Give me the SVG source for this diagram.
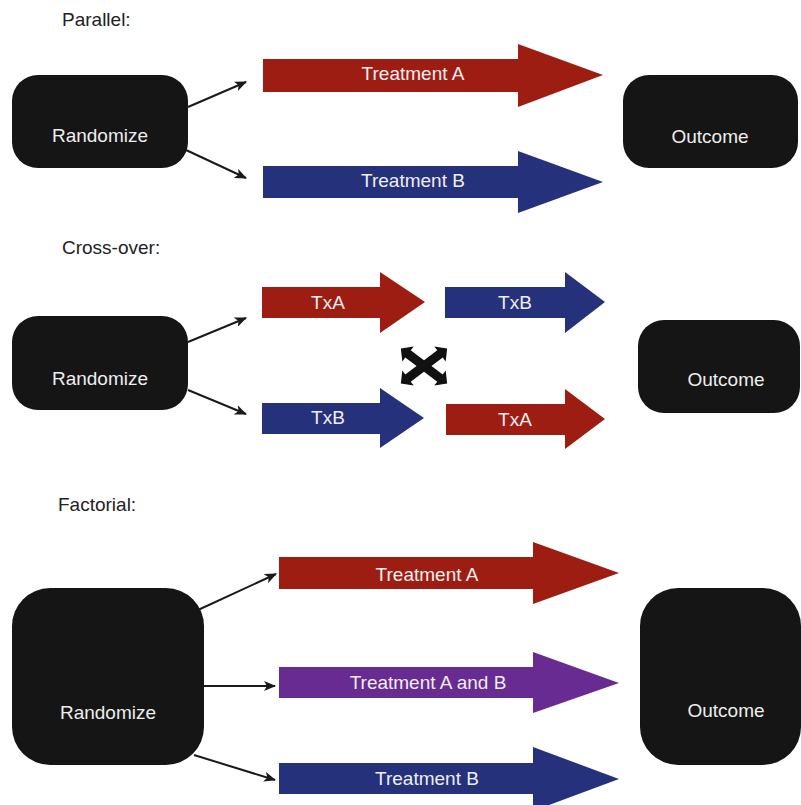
<svg xmlns="http://www.w3.org/2000/svg" width="801" height="805" viewBox="0 0 801 805">
  <defs>
    <style>
      .title { font-family: "Liberation Sans", Arial, sans-serif; font-size: 19px; fill: #222; }
      .box { fill: #151515; }
      .lbl { font-family: "Liberation Sans", Arial, sans-serif; font-size: 19px; fill: #eeeeee; text-anchor: middle; }
      .red { fill: #9d1d13; }
      .blue { fill: #26317c; }
      .purple { fill: #682b91; }
      .conn { stroke: #1a1a1a; stroke-width: 2; fill: none; marker-end: url(#head); }
    </style>
    <marker id="head" viewBox="0 0 12 10" refX="11" refY="5" markerWidth="12" markerHeight="10" markerUnits="userSpaceOnUse" orient="auto">
      <path d="M0,0 L12,5 L0,10 L3,5 Z" fill="#1a1a1a"/>
    </marker>
  </defs>

  <rect width="801" height="805" fill="#ffffff"/>

  <!-- section titles -->
  <text class="title" x="62" y="26">Parallel:</text>
  <text class="title" x="62" y="254">Cross-over:</text>
  <text class="title" x="58" y="511">Factorial:</text>

  <!-- Parallel design -->
  <g id="par-randomize">
    <rect class="box" x="12" y="75" width="176" height="93" rx="26"/>
    <text class="lbl" x="100" y="142">Randomize</text>
  </g>
  <g id="par-outcome">
    <rect class="box" x="623" y="75" width="175" height="93" rx="26"/>
    <text class="lbl" x="710" y="143">Outcome</text>
  </g>
  <g id="par-treatment-a">
    <polygon class="red" points="263,59 518,59 518,44 603,75 518,107 518,92 263,92"/>
    <text class="lbl" x="413" y="80">Treatment A</text>
  </g>
  <g id="par-treatment-b">
    <polygon class="blue" points="263,166 518,166 518,151 603,182 518,213 518,198 263,198"/>
    <text class="lbl" x="413" y="187">Treatment B</text>
  </g>

  <!-- Cross-over design -->
  <g id="co-randomize">
    <rect class="box" x="12" y="316" width="176" height="94" rx="26"/>
    <text class="lbl" x="100" y="385">Randomize</text>
  </g>
  <g id="co-outcome">
    <rect class="box" x="638" y="320" width="162" height="93" rx="26"/>
    <text class="lbl" x="726" y="386">Outcome</text>
  </g>
  <g id="co-txa-1">
    <polygon class="red" points="262,287 380,287 380,272 425,302 380,333 380,318 262,318"/>
    <text class="lbl" x="328" y="309">TxA</text>
  </g>
  <g id="co-txb-2">
    <polygon class="blue" points="445,287 565,287 565,272 605,302 565,333 565,318 445,318"/>
    <text class="lbl" x="515" y="309">TxB</text>
  </g>
  <g id="co-txb-1">
    <polygon class="blue" points="262,403 380,403 380,388 424,418 380,448 380,434 262,434"/>
    <text class="lbl" x="328" y="424">TxB</text>
  </g>
  <g id="co-txa-2">
    <polygon class="red" points="446,404 565,404 565,389 605,419 565,449 565,435 446,435"/>
    <text class="lbl" x="515" y="426">TxA</text>
  </g>
  <!-- swap symbol between periods -->
  <g id="co-swap" transform="translate(424,366)" fill="#111">
    <polygon transform="rotate(37)" points="-29,0 -20,-9.5 -20,-4.5 20,-4.5 20,-9.5 29,0 20,9.5 20,4.5 -20,4.5 -20,9.5"/>
    <polygon transform="rotate(-37)" points="-29,0 -20,-9.5 -20,-4.5 20,-4.5 20,-9.5 29,0 20,9.5 20,4.5 -20,4.5 -20,9.5"/>
  </g>

  <!-- Factorial design -->
  <g id="fa-randomize">
    <rect class="box" x="12" y="588" width="192" height="177" rx="38"/>
    <text class="lbl" x="108" y="719">Randomize</text>
  </g>
  <g id="fa-outcome">
    <rect class="box" x="640" y="588" width="161" height="177" rx="38"/>
    <text class="lbl" x="726" y="717">Outcome</text>
  </g>
  <g id="fa-treatment-a">
    <polygon class="red" points="279,557 533,557 533,542 619,573 533,604 533,589 279,589"/>
    <text class="lbl" x="427" y="581">Treatment A</text>
  </g>
  <g id="fa-treatment-ab">
    <polygon class="purple" points="279,667 533,667 533,652 619,683 533,713 533,698 279,698"/>
    <text class="lbl" x="428" y="689">Treatment A and B</text>
  </g>
  <g id="fa-treatment-b">
    <polygon class="blue" points="279,763 533,763 533,747 619,779 533,811 533,794 279,794"/>
    <text class="lbl" x="427" y="785">Treatment B</text>
  </g>

  <!-- connectors -->
  <g id="connectors">
    <line class="conn" x1="188" y1="107" x2="246" y2="82"/>
    <line class="conn" x1="186" y1="150" x2="246" y2="178"/>
    <line class="conn" x1="188" y1="342" x2="246" y2="318"/>
    <line class="conn" x1="188" y1="390" x2="246" y2="414"/>
    <line class="conn" x1="198" y1="610" x2="276" y2="574"/>
    <line class="conn" x1="204" y1="686" x2="275" y2="686"/>
    <line class="conn" x1="194" y1="755" x2="275" y2="780"/>
  </g>
</svg>
